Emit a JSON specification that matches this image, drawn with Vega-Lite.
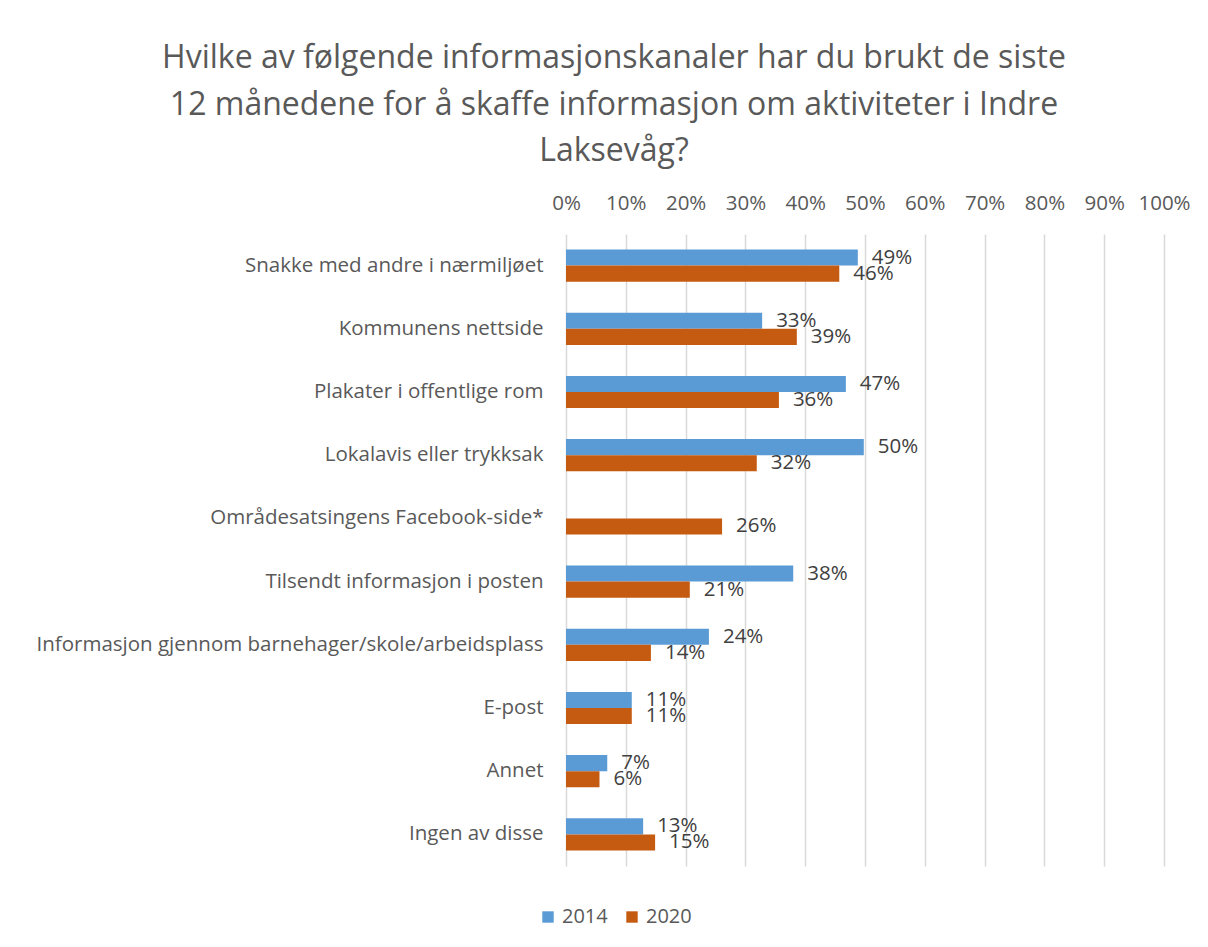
{
  "$schema": "https://vega.github.io/schema/vega-lite/v6.json",
  "width": 598,
  "height": 632,
  "autosize": {"type": "none"},
  "padding": {"left": 566, "top": 234, "right": 44, "bottom": 81},
  "background": "white",
  "title": {
    "text": ["Hvilke av følgende informasjonskanaler har du brukt de siste", "12 månedene for å skaffe informasjon om aktiviteter i Indre", "Laksevåg?"],
    "anchor": "middle",
    "dx": -251,
    "offset": 25,
    "font": "Open Sans",
    "fontSize": 32,
    "fontWeight": "normal",
    "color": "#595959",
    "lineHeight": 46.5
  },
  "config": {
    "view": {"stroke": null},
    "font": "Open Sans"
  },
  "data": {
    "values": [
      {"kanal": "Snakke med andre i nærmiljøet", "year": "2014", "value": 0.488},
      {"kanal": "Snakke med andre i nærmiljøet", "year": "2020", "value": 0.457},
      {"kanal": "Kommunens nettside", "year": "2014", "value": 0.328},
      {"kanal": "Kommunens nettside", "year": "2020", "value": 0.386},
      {"kanal": "Plakater i offentlige rom", "year": "2014", "value": 0.468},
      {"kanal": "Plakater i offentlige rom", "year": "2020", "value": 0.356},
      {"kanal": "Lokalavis eller trykksak", "year": "2014", "value": 0.498},
      {"kanal": "Lokalavis eller trykksak", "year": "2020", "value": 0.319},
      {"kanal": "Områdesatsingens Facebook-side*", "year": "2020", "value": 0.261},
      {"kanal": "Tilsendt informasjon i posten", "year": "2014", "value": 0.38},
      {"kanal": "Tilsendt informasjon i posten", "year": "2020", "value": 0.207},
      {"kanal": "Informasjon gjennom barnehager/skole/arbeidsplass", "year": "2014", "value": 0.239},
      {"kanal": "Informasjon gjennom barnehager/skole/arbeidsplass", "year": "2020", "value": 0.142},
      {"kanal": "E-post", "year": "2014", "value": 0.11},
      {"kanal": "E-post", "year": "2020", "value": 0.11},
      {"kanal": "Annet", "year": "2014", "value": 0.069},
      {"kanal": "Annet", "year": "2020", "value": 0.056},
      {"kanal": "Ingen av disse", "year": "2014", "value": 0.129},
      {"kanal": "Ingen av disse", "year": "2020", "value": 0.149}
    ]
  },
  "encoding": {
    "y": {
      "field": "kanal",
      "type": "nominal",
      "sort": null,
      "scale": {"paddingInner": 0.49, "paddingOuter": 0.245},
      "axis": {
        "title": null,
        "domain": false,
        "ticks": false,
        "labelPadding": 23,
        "labelFontSize": 20.5,
        "labelColor": "#595959",
        "labelLimit": 600,
        "grid": false
      }
    },
    "yOffset": {"field": "year", "type": "nominal", "sort": ["2014", "2020"]},
    "x": {
      "field": "value",
      "type": "quantitative",
      "scale": {"domain": [0, 1]},
      "axis": {
        "orient": "top",
        "title": null,
        "format": ".0%",
        "values": [0, 0.1, 0.2, 0.3, 0.4, 0.5, 0.6, 0.7, 0.8, 0.9, 1],
        "labelOverlap": false,
        "labelFlush": false,
        "domain": false,
        "ticks": false,
        "labelPadding": 21,
        "labelFontSize": 20.5,
        "labelColor": "#595959",
        "gridColor": "#d9d9d9",
        "gridWidth": 1.5
      }
    }
  },
  "layer": [
    {
      "mark": {"type": "bar"},
      "encoding": {
        "color": {
          "field": "year",
          "type": "nominal",
          "scale": {"domain": ["2014", "2020"], "range": ["#5B9BD5", "#C55A11"]},
          "legend": {
            "title": null,
            "orient": "none",
            "direction": "horizontal",
            "legendX": -28,
            "legendY": 673,
            "symbolType": "square",
            "symbolSize": 130,
            "symbolStrokeWidth": 0,
            "labelFontSize": 20,
            "labelColor": "#595959",
            "columnPadding": 14,
            "labelOffset": 4
          }
        }
      }
    },
    {
      "mark": {"type": "text", "align": "left", "baseline": "middle", "dx": 14, "fontSize": 20.5, "color": "#404040"},
      "encoding": {
        "text": {"field": "value", "type": "quantitative", "format": ".0%"}
      }
    }
  ]
}
